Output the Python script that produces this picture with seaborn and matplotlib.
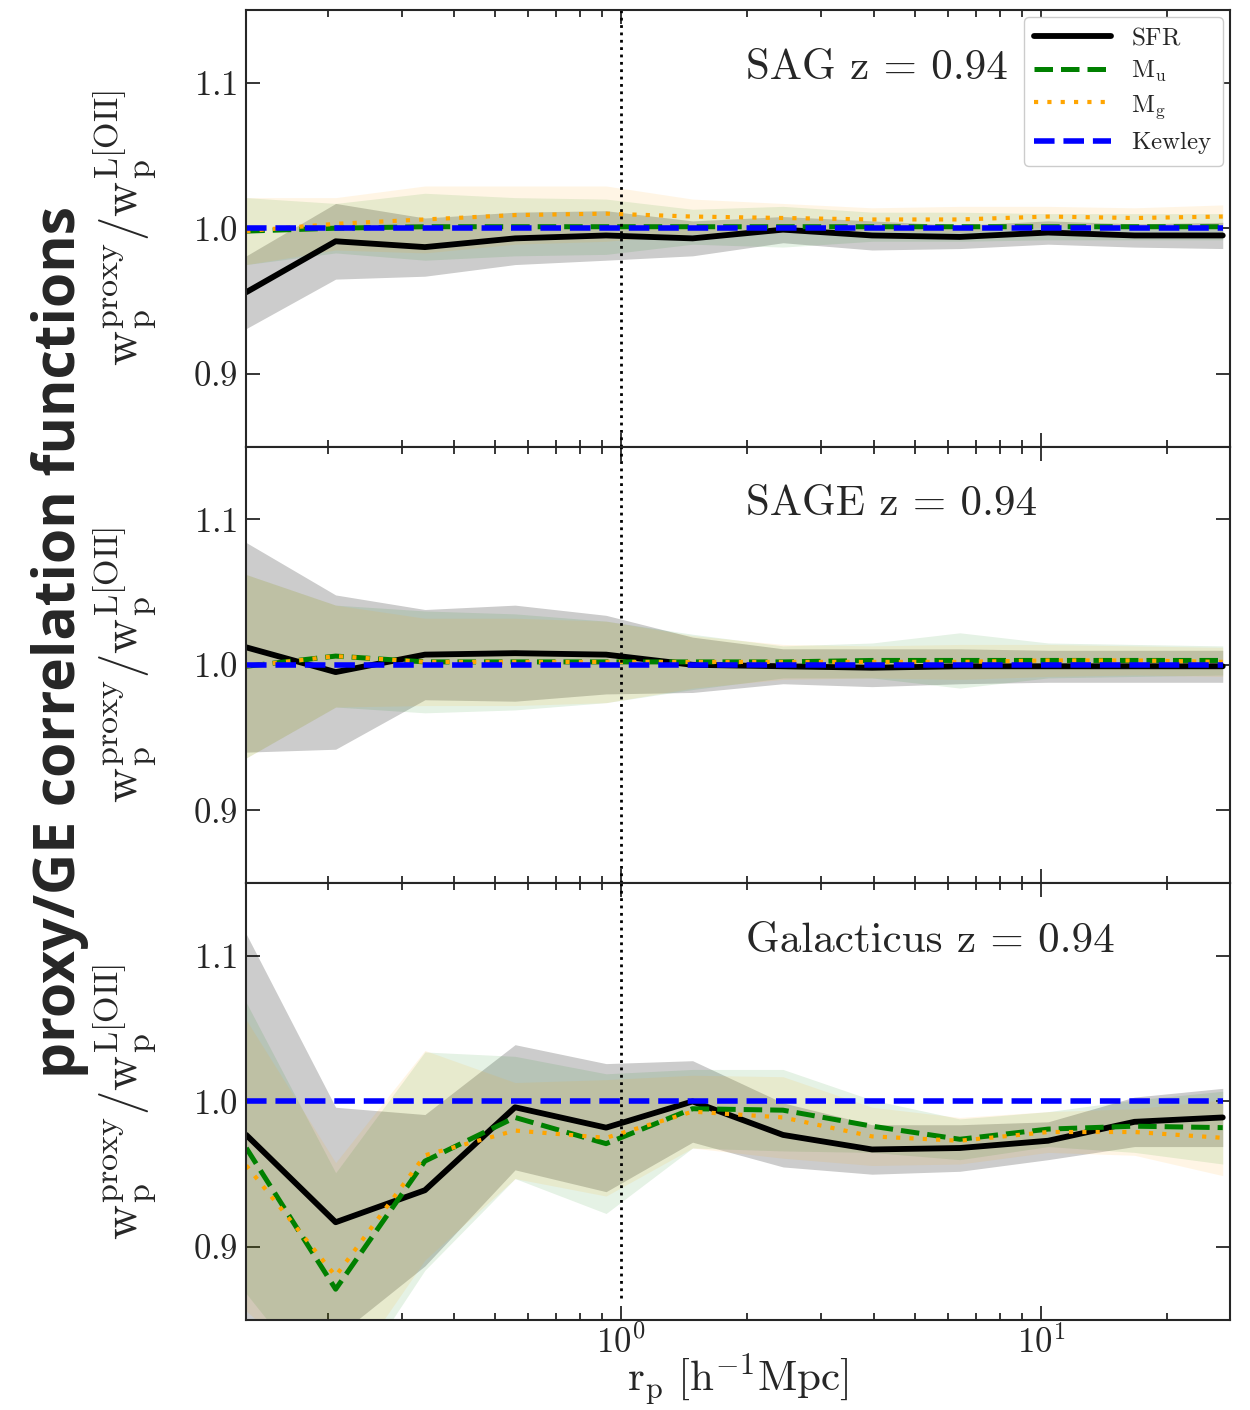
import numpy as np
import pandas as pd
import seaborn as sns
import matplotlib
matplotlib.use("Agg")
import matplotlib.pyplot as plt
from matplotlib.ticker import FixedLocator, LogLocator, NullFormatter


# projected separations [h^-1 Mpc]
rp = [0.128, 0.209, 0.341, 0.559, 0.921, 1.48, 2.43, 3.96, 6.41, 10.4, 16.7, 27.1]

# SAG z = 0.94
sfr_sag = [0.956, 0.991, 0.987, 0.993, 0.995, 0.993, 0.999, 0.995, 0.994, 0.997, 0.995, 0.995]
sfr_sag_err = [0.025, 0.026, 0.020, 0.018, 0.017, 0.012, 0.009, 0.010, 0.008, 0.008, 0.008, 0.009]
mu_sag = [0.998, 1.000, 1.001, 1.001, 1.001, 1.001, 1.001, 1.001, 1.001, 1.001, 1.001, 1.001]
mu_sag_err = [0.023, 0.017, 0.023, 0.020, 0.019, 0.012, 0.014, 0.010, 0.010, 0.009, 0.009, 0.009]
mg_sag = [0.998, 1.003, 1.006, 1.009, 1.010, 1.008, 1.007, 1.006, 1.006, 1.008, 1.007, 1.008]
mg_sag_err = [0.023, 0.018, 0.023, 0.020, 0.019, 0.012, 0.010, 0.008, 0.009, 0.007, 0.007, 0.008]

# SAGE z = 0.94
sfr_sage = [1.012, 0.995, 1.007, 1.008, 1.007, 1.000, 0.999, 0.998, 0.999, 0.999, 0.999, 0.999]
sfr_sage_err = [0.072, 0.053, 0.031, 0.033, 0.027, 0.019, 0.012, 0.013, 0.012, 0.011, 0.011, 0.011]
mu_sage = [0.999, 1.006, 1.002, 1.002, 1.002, 1.002, 1.002, 1.003, 1.003, 1.003, 1.003, 1.003]
mu_sage_err = [0.063, 0.035, 0.035, 0.033, 0.028, 0.019, 0.011, 0.012, 0.019, 0.012, 0.011, 0.010]
mg_sage = [0.999, 1.006, 1.002, 1.002, 1.002, 1.002, 1.002, 1.002, 1.002, 1.003, 1.003, 1.002]
mg_sage_err = [0.063, 0.035, 0.030, 0.030, 0.028, 0.018, 0.012, 0.011, 0.012, 0.011, 0.010, 0.010]

# Galacticus z = 0.94
sfr_gal = [0.977, 0.917, 0.939, 0.996, 0.982, 1.000, 0.977, 0.967, 0.968, 0.973, 0.986, 0.989]
sfr_gal_err = [0.138, 0.079, 0.052, 0.043, 0.044, 0.028, 0.022, 0.017, 0.016, 0.013, 0.017, 0.020]
mu_gal = [0.968, 0.871, 0.959, 0.989, 0.971, 0.995, 0.994, 0.983, 0.974, 0.981, 0.983, 0.982]
mu_gal_err = [0.100, 0.080, 0.075, 0.042, 0.048, 0.027, 0.028, 0.018, 0.014, 0.012, 0.018, 0.025]
mg_gal = [0.956, 0.880, 0.963, 0.980, 0.975, 0.993, 0.989, 0.976, 0.973, 0.979, 0.979, 0.975]
mg_gal_err = [0.100, 0.078, 0.072, 0.033, 0.040, 0.025, 0.028, 0.020, 0.016, 0.014, 0.016, 0.026]

kewley = [1.0] * len(rp)

panel_titles = ['SAG z = 0.94', 'SAGE z = 0.94', 'Galacticus z = 0.94']
panels = [
    (sfr_sag, sfr_sag_err, mu_sag, mu_sag_err, mg_sag, mg_sag_err),
    (sfr_sage, sfr_sage_err, mu_sage, mu_sage_err, mg_sage, mg_sage_err),
    (sfr_gal, sfr_gal_err, mu_gal, mu_gal_err, mg_gal, mg_gal_err),
]

sns.set_style("ticks")
plt.rcParams['font.family'] = 'serif'
plt.rcParams['font.serif'] = ['cmr10', 'DejaVu Serif']
plt.rcParams['mathtext.fontset'] = 'cm'
plt.rcParams['axes.formatter.use_mathtext'] = True
plt.rcParams['axes.linewidth'] = 1.5

fig, axes = plt.subplots(3, 1, figsize=(12.5, 14.1), dpi=100, sharex=True)
fig.subplots_adjust(left=0.197, right=0.984, top=0.993, bottom=0.064, hspace=0)

for i, ax in enumerate(axes):
    sfr, sfr_err, mu, mu_err, mg, mg_err = panels[i]
    x = np.array(rp)
    # bands
    ax.fill_between(x, np.array(sfr) - sfr_err, np.array(sfr) + sfr_err,
                    color='black', alpha=0.2, lw=0)
    ax.fill_between(x, np.array(mu) - mu_err, np.array(mu) + mu_err,
                    color='green', alpha=0.1, lw=0)
    ax.fill_between(x, np.array(mg) - mg_err, np.array(mg) + mg_err,
                    color='orange', alpha=0.1, lw=0)

    df = pd.DataFrame({'rp': rp, 'SFR': sfr, 'Mu': mu, 'Mg': mg, 'Kewley': kewley})
    sns.lineplot(data=df, x='rp', y='SFR', ax=ax, color='black', lw=4.2,
                 label=r'$\mathrm{SFR}$')
    sns.lineplot(data=df, x='rp', y='Mu', ax=ax, color='green', lw=3.6,
                 ls='--', label=r'$\mathrm{M_u}$')
    sns.lineplot(data=df, x='rp', y='Mg', ax=ax, color='orange', lw=3.0,
                 ls=(0, (1, 2.2)), label=r'$\mathrm{M_g}$')
    sns.lineplot(data=df, x='rp', y='Kewley', ax=ax, color='blue', lw=4.0,
                 ls='--', label=r'$\mathrm{Kewley}$')

    if i == 2:
        ax.axvline(1.0, ymin=0.05, color='black', ls=':', lw=2)
    else:
        ax.axvline(1.0, color='black', ls=':', lw=2)

    ax.set_xscale('log')
    ax.set_xlim(0.128, 28.2)
    ax.set_ylim(0.85, 1.15)
    ax.yaxis.set_major_locator(FixedLocator([0.9, 1.0, 1.1]))
    ax.xaxis.set_major_locator(LogLocator(base=10))
    ax.xaxis.set_minor_locator(LogLocator(base=10, subs=np.arange(2, 10)))
    ax.xaxis.set_minor_formatter(NullFormatter())
    ax.tick_params(which='both', direction='in', top=True, right=True,
                   labelsize=25, width=1.3)
    ax.tick_params(which='major', length=10, pad=6)
    ax.tick_params(axis='x', which='major', pad=4)
    ax.tick_params(which='minor', length=5)
    for s in ax.spines.values():
        s.set_linewidth(1.5)

    ax.set_ylabel(r'$\mathrm{w_p^{proxy}/w_p^{L[OII]}}$', fontsize=35)
    ax.yaxis.set_label_coords(-0.09, 0.5)
    ax.set_xlabel('')
    ax.text(0.508, 0.867, panel_titles[i], transform=ax.transAxes,
            fontsize=31, ha='left', va='center')

    if i == 0:
        ax.legend(loc='upper right', fontsize=18, handlelength=3.1,
                  labelspacing=0.35, borderaxespad=0.3, framealpha=1)
    else:
        ax.get_legend().remove()

axes[2].set_xlabel(r'$\mathrm{r_p\ [h^{-1}Mpc]}$', fontsize=31, labelpad=-6)

fig.text(0.048, 0.545, 'proxy/GE correlation functions', rotation=90,
         ha='center', va='center', fontsize=41, fontweight='bold',
         family=['Open Sans', 'DejaVu Sans'])

fig.savefig('out.png', dpi=100)
